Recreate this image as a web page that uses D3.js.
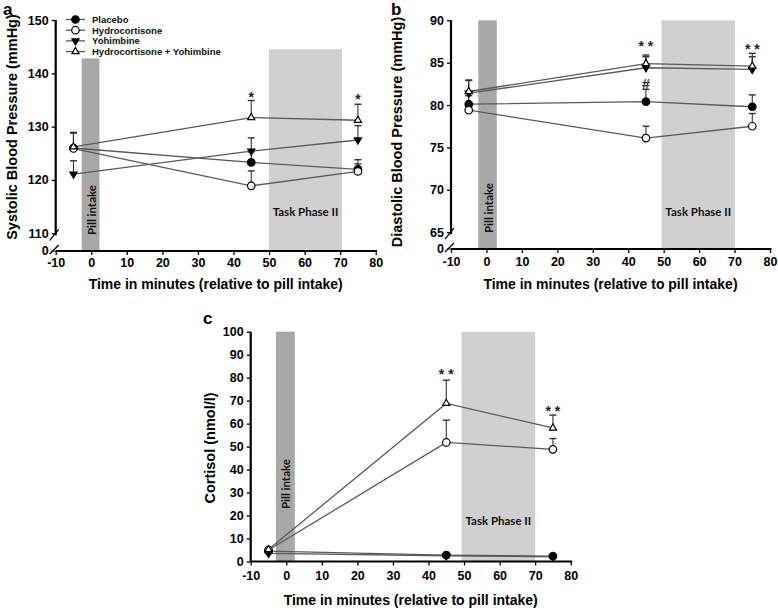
<!DOCTYPE html>
<html><head><meta charset="utf-8">
<script src="https://cdn.jsdelivr.net/npm/d3@7"></script>
<style>body{margin:0;background:#fff} svg{display:block}</style>
</head><body>
<svg id="chart" width="778" height="610"></svg>
<script>
// ---------- data ----------
const times = [-5, 45, 75];
const groups = ["Placebo", "Hydrocortisone", "Yohimbine", "Hydrocortisone + Yohimbine"];
const xTicks = [-10, 0, 10, 20, 30, 40, 50, 60, 70, 80];

// (a) Systolic blood pressure (mmHg), mean and SEM
const sbpPlacebo = [126.0, 123.3, 122.0];
const sbpPlaceboSem = [2.9, 2.0, 1.8];
const sbpHydro = [125.9, 118.9, 121.6];
const sbpHydroSem = [2.9, 2.8, 1.4];
const sbpYoh = [121.1, 125.4, 127.5];
const sbpYohSem = [2.5, 2.5, 2.7];
const sbpHY = [126.2, 131.7, 131.2];
const sbpHYSem = [2.7, 3.2, 3.0];
const sbpTicks = [110, 120, 130, 140, 150];

// (b) Diastolic blood pressure (mmHg)
const dbpPlacebo = [80.1, 80.4, 79.8];
const dbpPlaceboSem = [1.0, 1.45, 1.4];
const dbpHydro = [79.4, 76.1, 77.5];
const dbpHydroSem = [0.5, 1.4, 1.5];
const dbpYoh = [81.4, 84.4, 84.2];
const dbpYohSem = [1.5, 1.3, 1.5];
const dbpHY = [81.6, 84.9, 84.6];
const dbpHYSem = [1.35, 1.0, 1.5];
const dbpTicks = [65, 70, 75, 80, 85, 90];

// (c) Cortisol (nmol/l)
const cortPlacebo = [4.5, 2.8, 2.3];
const cortPlaceboSem = [0.5, 0.3, 0.3];
const cortHydro = [5.0, 51.8, 48.8];
const cortHydroSem = [0.6, 9.7, 4.7];
const cortYoh = [3.5, 2.5, 2.0];
const cortYohSem = [0.4, 0.3, 0.3];
const cortHY = [5.2, 68.8, 58.1];
const cortHYSem = [0.6, 10.1, 5.6];
const cortTicks = [0, 10, 20, 30, 40, 50, 60, 70, 80, 90, 100];

// shaded periods [start, end, top value]
const pillA = [-2.7, 2.3, 142.8], taskA = [50, 70.5, 144.5];
const pillB = [-2.3, 2.9, 90], taskB = [49.4, 70.1, 90];
const pillC = [-2.9, 2.4, 100], taskC = [49.3, 70.0, 100];

// significance marks [time, value, text]
const sigA = [[45, 135.9, "*"], [75, 135.4, "*"]];
const sigB = [[45, 87.1, "* *"], [75, 86.8, "* *"], [45, 82.5, "#"]];
const sigC = [[45, 82.0, "* *"], [75, 66.3, "* *"]];

// ---------- drawing ----------
const svg = d3.select("#chart");
const FONT = "'Liberation Sans', Arial, sans-serif";
const FONT2 = "Lato, 'Open Sans', sans-serif";
const LINE = "#5a5a5a";

const markerDefs = [
  {type: d3.symbolCircle, fill: "#000", rot: 0, size: 44},
  {type: d3.symbolCircle, fill: "#fff", rot: 0, size: 44},
  {type: d3.symbolTriangle, fill: "#000", rot: 180, size: 22},
  {type: d3.symbolTriangle, fill: "#fff", rot: 0, size: 22}
];

function drawMarker(g, i, x, y) {
  const m = markerDefs[i];
  g.append("path")
    .attr("d", d3.symbol().type(m.type).size(m.size)())
    .attr("transform", `translate(${x},${y}) rotate(${m.rot})`)
    .attr("fill", m.fill).attr("stroke", "#000").attr("stroke-width", 1.2);
}

function panel(o) {
  const g = svg.append("g");
  const x = d3.scaleLinear().domain([-10, 80]).range([o.x0, o.x1]);
  const y = d3.scaleLinear().domain(o.yDomain).range([o.yBottom, o.yTop]);

  // shading
  [[o.pill, "#a8a8a8"], [o.task, "#d0d0d0"]].forEach(([s, c]) => {
    g.append("rect").attr("x", x(s[0])).attr("width", x(s[1]) - x(s[0]))
      .attr("y", y(s[2])).attr("height", o.axisY - y(s[2])).attr("fill", c);
  });
  // shading labels
  const pcx = (x(o.pill[0]) + x(o.pill[1])) / 2;
  g.append("text").text("Pill intake")
    .attr("transform", `translate(${pcx + 0.5},${o.pillTextY}) rotate(-90)`)
    .attr("dominant-baseline", "central").attr("font-family", FONT2)
    .attr("font-weight", "bold").attr("font-size", 11.5).attr("fill", "#111");
  g.append("text").text("Task Phase II")
    .attr("x", (x(o.task[0]) + x(o.task[1])) / 2).attr("y", o.taskTextY)
    .attr("text-anchor", "middle").attr("dominant-baseline", "central")
    .attr("font-family", FONT2).attr("font-weight", "bold")
    .attr("font-size", 11.5).attr("fill", "#111");

  // axes
  const fmt = d => String(d);
  const xAxis = d3.axisBottom(x).tickValues(xTicks).tickFormat(fmt).tickSize(4).tickSizeOuter(0);
  const xg = g.append("g").attr("transform", `translate(0,${o.axisY})`).call(xAxis);
  xg.select(".domain").attr("d", `M${o.x0},0H${o.x1 + 1.5}`);
  const yAxis = d3.axisLeft(y).tickValues(o.yTicks).tickFormat(fmt).tickSize(4).tickSizeOuter(0);
  const yg = g.append("g").attr("transform", `translate(${o.x0},0)`).call(yAxis);
  if (o.broken) {
    yg.select(".domain").attr("d", `M0,${o.yTop}V${o.yBottom + 2}`);
    const zt = yg.append("g").attr("transform", `translate(0,${o.axisY})`);
    zt.append("line").attr("x2", -4).attr("stroke", "#000");
    zt.append("text").text("0").attr("x", -7).attr("dy", "0.32em")
      .attr("text-anchor", "end").attr("fill", "#000");
    g.append("line").attr("x1", o.x0 - 6).attr("y1", o.yBottom + 7)
      .attr("x2", o.x0 + 3).attr("y2", o.yBottom - 4)
      .attr("stroke", "#000").attr("stroke-width", 1.3);
    g.append("line").attr("x1", o.x0 - 6).attr("y1", o.axisY + 3)
      .attr("x2", o.x0 + 3).attr("y2", o.axisY - 6)
      .attr("stroke", "#000").attr("stroke-width", 1.3);
  } else {
    yg.select(".domain").attr("d", `M0,${o.yTop}V${o.axisY}`);
  }
  [xg, yg].forEach(a => {
    a.selectAll(".domain").attr("stroke", "#000").attr("stroke-width", 2.2);
    a.selectAll(".tick line").attr("stroke", "#000").attr("stroke-width", 1.3);
    a.selectAll("text").attr("font-family", FONT).attr("font-weight", "bold")
      .attr("font-size", 12.5).attr("fill", "#000");
  });
  xg.selectAll(".tick text").attr("y", o.xLabOff).attr("dy", "0.32em");
  yg.selectAll(".tick text").attr("x", -7);

  // axis titles
  g.append("text").text("Time in minutes (relative to pill intake)")
    .attr("x", (o.x0 + o.x1) / 2).attr("y", o.xTitleY).attr("text-anchor", "middle")
    .attr("dominant-baseline", "central").attr("font-family", FONT)
    .attr("font-weight", "bold").attr("font-size", 14).attr("fill", "#000");
  g.append("text").text(o.yTitle)
    .attr("transform", `translate(${o.yTitleX},${o.yTitleY}) rotate(-90)`)
    .attr("text-anchor", "middle").attr("dominant-baseline", "central")
    .attr("font-family", FONT).attr("font-weight", "bold")
    .attr("font-size", 14.5).attr("fill", "#000");
  g.append("text").text(o.letter).attr("x", o.letterX).attr("y", o.letterY)
    .attr("dominant-baseline", "central").attr("font-family", FONT)
    .attr("font-weight", "bold").attr("font-size", 17).attr("fill", "#000");

  // error bars (upward)
  o.series.forEach((s) => {
    s.mean.forEach((m, k) => {
      const px = x(times[k]);
      const top = y(m + s.sem[k]);
      g.append("line").attr("x1", px).attr("x2", px).attr("y1", y(m)).attr("y2", top)
        .attr("stroke", "#333").attr("stroke-width", 1.1);
      g.append("line").attr("x1", px - 3.5).attr("x2", px + 3.5).attr("y1", top).attr("y2", top)
        .attr("stroke", "#333").attr("stroke-width", 1.4);
    });
  });
  // lines
  const line = d3.line().x((d, k) => x(times[k])).y(d => y(d));
  o.series.forEach(s => {
    g.append("path").attr("d", line(s.mean)).attr("fill", "none")
      .attr("stroke", LINE).attr("stroke-width", 1.3);
  });
  // markers
  o.series.forEach((s, i) => {
    s.mean.forEach((m, k) => drawMarker(g, i, x(times[k]), y(m)));
  });
  // significance marks
  o.sig.forEach(([t, v, txt]) => {
    const hash = txt === "#";
    g.append("text").text(txt).attr("x", x(t)).attr("y", y(v))
      .attr("text-anchor", "middle").attr("dominant-baseline", hash ? "central" : "hanging")
      .attr("dy", hash ? 0 : -4)
      .attr("font-family", FONT).attr("font-weight", "bold")
      .attr("font-size", hash ? 14 : 14).attr("fill", "#222");
  });
  return {g, x, y};
}

panel({
  x0: 55.7, x1: 375.7, yTop: 20, yBottom: 233.3, axisY: 251, yDomain: [110, 150],
  broken: true, yTicks: sbpTicks, xLabOff: 12, xTitleY: 283.5,
  yTitle: "Systolic Blood Pressure (mmHg)", yTitleX: 12, yTitleY: 127,
  letter: "a", letterX: 3, letterY: 9,
  pill: pillA, task: taskA, pillTextY: 235, taskTextY: 211.5,
  sig: sigA,
  series: [
    {mean: sbpPlacebo, sem: sbpPlaceboSem},
    {mean: sbpHydro, sem: sbpHydroSem},
    {mean: sbpYoh, sem: sbpYohSem},
    {mean: sbpHY, sem: sbpHYSem}
  ]
});

panel({
  x0: 451, x1: 770, yTop: 20.3, yBottom: 232.2, axisY: 249, yDomain: [65, 90],
  broken: true, yTicks: dbpTicks, xLabOff: 13, xTitleY: 284,
  yTitle: "Diastolic Blood Pressure (mmHg)", yTitleX: 397, yTitleY: 132,
  letter: "b", letterX: 391, letterY: 9,
  pill: pillB, task: taskB, pillTextY: 233, taskTextY: 211,
  sig: sigB,
  series: [
    {mean: dbpPlacebo, sem: dbpPlaceboSem},
    {mean: dbpHydro, sem: dbpHydroSem},
    {mean: dbpYoh, sem: dbpYohSem},
    {mean: dbpHY, sem: dbpHYSem}
  ]
});

panel({
  x0: 250.7, x1: 570.7, yTop: 331.7, yBottom: 561.5, axisY: 561.5, yDomain: [0, 100],
  broken: false, yTicks: cortTicks, xLabOff: 14, xTitleY: 600,
  yTitle: "Cortisol (nmol/l)", yTitleX: 210, yTitleY: 448,
  letter: "c", letterX: 203, letterY: 318,
  pill: pillC, task: taskC, pillTextY: 509, taskTextY: 520,
  sig: sigC,
  series: [
    {mean: cortPlacebo, sem: cortPlaceboSem},
    {mean: cortHydro, sem: cortHydroSem},
    {mean: cortYoh, sem: cortYohSem},
    {mean: cortHY, sem: cortHYSem}
  ]
});

// legend (panel a)
const lg = svg.append("g");
groups.forEach((name, i) => {
  const yy = 19.5 + i * 10.7;
  lg.append("line").attr("x1", 66).attr("x2", 85).attr("y1", yy).attr("y2", yy)
    .attr("stroke", LINE).attr("stroke-width", 1.3);
  drawMarker(lg, i, 75.5, yy);
  lg.append("text").text(name).attr("x", 92).attr("y", yy)
    .attr("dominant-baseline", "central").attr("font-family", FONT)
    .attr("font-weight", "bold").attr("font-size", 9.5).attr("fill", "#111");
});
</script>
</body></html>
